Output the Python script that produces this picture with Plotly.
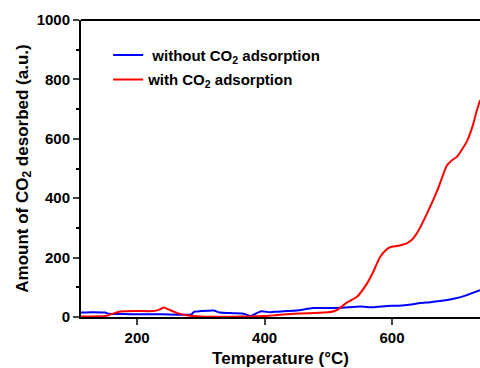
import plotly.graph_objects as go

# Data
temp_without = [112, 130, 150, 155, 180, 200, 240, 285, 290, 300, 320, 330, 350, 365, 372, 378, 385, 395, 409, 420, 450, 476, 500, 520, 550, 570, 592, 610, 630, 644, 660, 686, 700, 715, 738]
co2_without = [15, 16, 15, 11, 10, 9, 9, 9, 18, 20, 22, 15, 13, 12, 8, 3, 10, 19, 16, 18, 22, 30, 30, 31, 35, 33, 37, 38, 42, 47, 50, 57, 63, 72, 90]

temp_with = [112, 150, 160, 172, 200, 225, 235, 242, 250, 263, 280, 300, 350, 380, 400, 420, 440, 471, 500, 510, 518, 530, 545, 561, 570, 581, 590, 597, 610, 623, 632, 639, 655, 671, 686, 694, 702, 710, 718, 726, 733, 738]
co2_with = [2, 3, 10, 18, 20, 20, 25, 32, 25, 13, 5, 2, 1, 2, 3, 7, 10, 13, 16, 20, 30, 50, 68, 114, 150, 201, 225, 235, 240, 248, 262, 282, 349, 426, 510, 528, 540, 565, 594, 640, 695, 730]

x_ticks = [200, 400, 600]
y_ticks = [0, 200, 400, 600, 800, 1000]

font_family = "Liberation Sans, Arial, sans-serif"

fig = go.Figure()
fig.add_trace(go.Scatter(x=temp_without, y=co2_without, mode="lines",
                         line=dict(color="#0000FF", width=2, shape="spline", smoothing=0.5),
                         name="\u00a0without CO<sub>2</sub> adsorption", legendgroup="a"))
fig.add_trace(go.Scatter(x=temp_with, y=co2_with, mode="lines",
                         line=dict(color="#FF0000", width=2, shape="spline", smoothing=0.5),
                         name="with CO<sub>2</sub> adsorption", legendgroup="b"))

fig.update_layout(
    width=480, height=368,
    margin=dict(l=81, r=0, t=20, b=51),
    paper_bgcolor="white", plot_bgcolor="white",
    font=dict(family=font_family, color="black"),
    showlegend=True,
    legend=dict(x=0.068, y=0.937, xanchor="left", yanchor="top",
                bgcolor="rgba(0,0,0,0)", font=dict(size=15, weight="bold"),
                tracegroupgap=2, itemwidth=30),
    xaxis=dict(range=[112, 738], tickvals=x_ticks, ticks="outside", ticklen=6,
               tickwidth=2, showline=True, linewidth=2, linecolor="black",
               mirror=False, showgrid=False, zeroline=False,
               tickfont=dict(size=15, weight="bold"),
               title=dict(text="Temperature (\u00b0C)", font=dict(size=17, weight="bold"), standoff=9)),
    yaxis=dict(range=[0, 1000], tickvals=y_ticks, ticks="outside", ticklen=6,
               tickwidth=2, showline=True, linewidth=2, linecolor="black",
               showgrid=False, zeroline=False,
               minor=dict(dtick=100, ticks="outside", ticklen=3, tickwidth=1.5, tickcolor="black"),
               tickfont=dict(size=15, weight="bold"),
               title=dict(text="Amount of CO<sub>2</sub> desorbed (a.u.)", font=dict(size=17, weight="bold"), standoff=4)),
)
# top border line
fig.add_shape(type="line", xref="paper", yref="paper", x0=0, x1=1, y0=1, y1=1,
              line=dict(color="black", width=2))

fig.write_html("out.html")
